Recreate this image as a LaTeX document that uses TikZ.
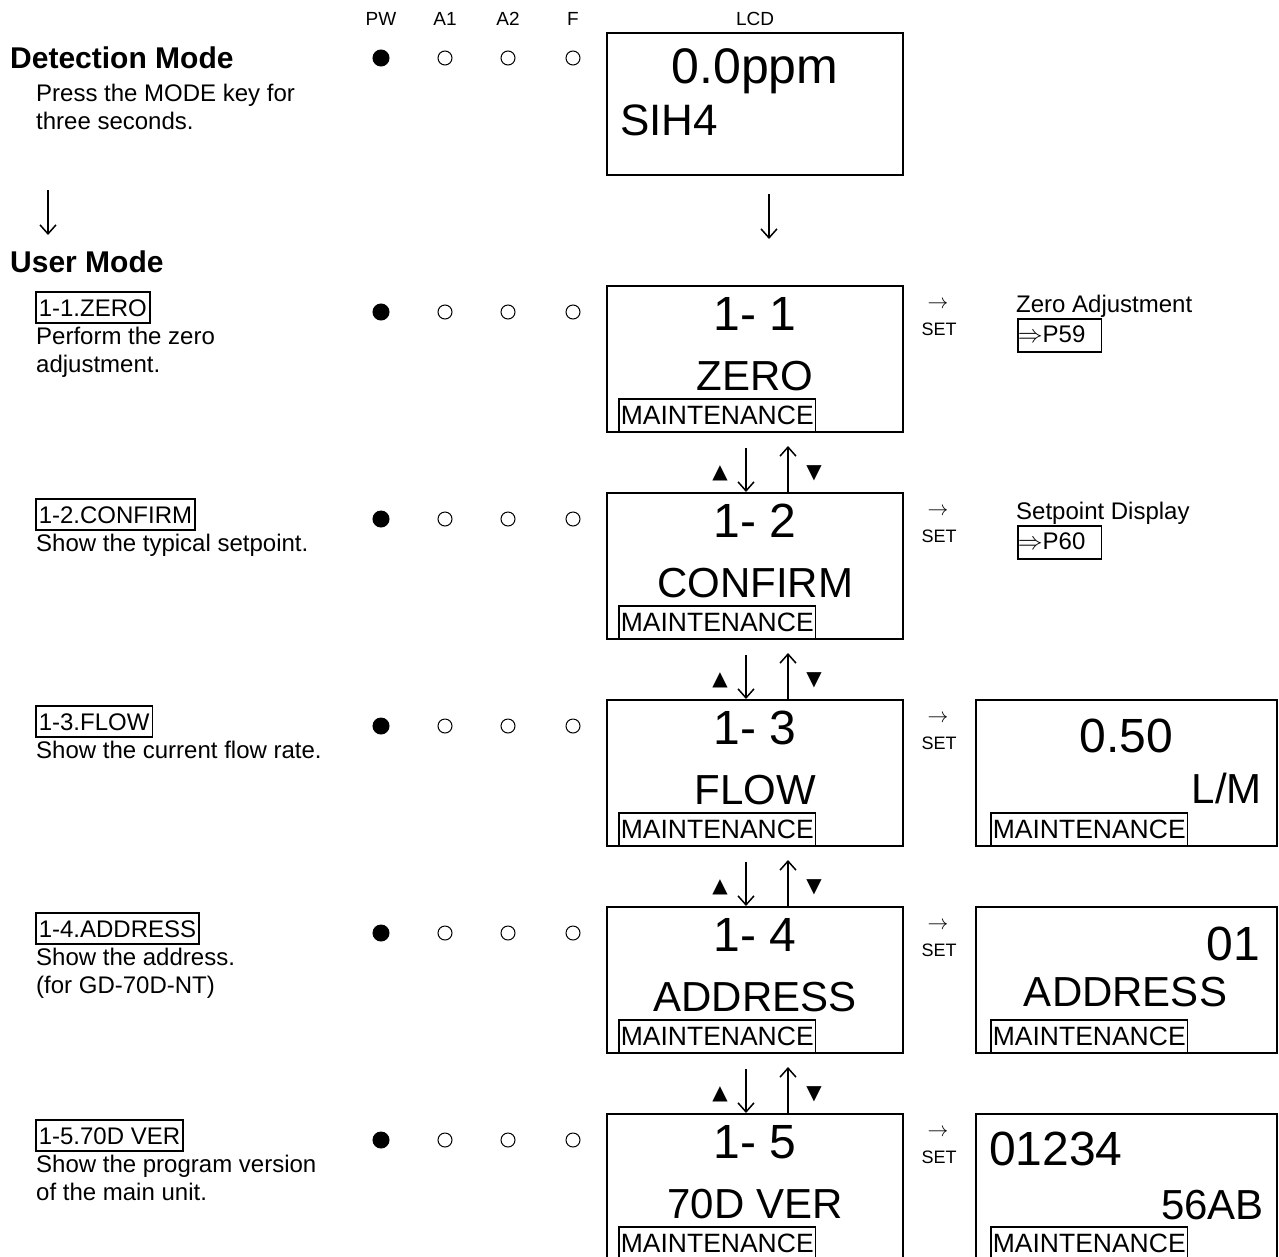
\documentclass[tikz,border=0pt]{standalone}
\usepackage{fontspec}
\setmainfont{Liberation Sans}
\newfontfamily\symfont{DejaVu Sans}
\usetikzlibrary{arrows.meta,positioning,calc}

\newcommand{\fsz}[1]{\fontsize{#1}{#1}\selectfont}

\begin{document}
\begin{tikzpicture}[
  x=1pt, y=-1pt,
  lcd/.style={draw, line width=2pt, minimum width=296, minimum height=146, inner sep=0pt, anchor=north west},
  subbox/.style={lcd, minimum width=301},
  maint/.style={draw, line width=1.6pt, font=\fsz{26.5}, inner xsep=2pt, inner ysep=0pt,
    text height=25pt, text depth=8pt, anchor=south west},
  big/.style={font=\fsz{48}, anchor=base, inner sep=0pt},
  mid/.style={font=\fsz{42}, anchor=base, inner sep=0pt},
  led/.style={circle, draw, line width=1pt, minimum size=14, inner sep=0pt},
  ledon/.style={led, fill=black, minimum size=16},
  head/.style={font=\fsz{19}, inner sep=0pt},
  title/.style={font=\bfseries\fsz{30}, anchor=base west, inner sep=0pt},
  desc/.style={font=\fontsize{24}{28}\selectfont, align=left, anchor=north west, inner sep=0pt},
  itembox/.style={draw, line width=1.6pt, font=\fsz{24}, inner xsep=3pt, inner ysep=0pt,
    text height=24pt, text depth=7pt, anchor=base west},
  refbox/.style={draw, line width=1.6pt, font=\fsz{24}, inner sep=0pt,
    text height=24pt, text depth=9pt, anchor=north west},
  tri/.style={font=\symfont\fsz{20}, inner sep=0pt},
  flow/.style={-{Straight Barb[length=9pt, width=16pt]}, line width=1.5pt},
]
  \useasboundingbox (0,0) rectangle (1279,1256);

  % column heads
  \foreach \x/\lab in {381/PW, 445/A1, 508/A2, 573/F}
    \node[head] at (\x,19) {\lab};

  % detection mode
  \node[title] (det) at (10,68) {Detection Mode};
  \node[desc] (detdesc) at (36,84) {Press the MODE key for\\three seconds.};
  \node[ledon] at (381,58) {};
  \foreach \x in {445,508,573}
    \node[led] at (\x,58) {};
  \node[lcd, minimum height=142] (d) at (606,32) {};
  \node[head] at (d.north |- 0,19) {LCD};
  \node[big, font=\fsz{50}] at ($(d.north)+(0,51)$) {0.0ppm};
  \node[mid, font=\fsz{44}, anchor=base west] at ($(d.north west)+(14,103)$) {SIH4};

  \coordinate (la) at (48,190);
  \coordinate (lb) at (48,235);
  \draw[flow] (la) -- (lb);
  \draw[flow] ($(d.south)+(14,18)$) -- ($(d.south)+(14,63)$);

  % user mode
  \node[title] (user) at (10,272) {User Mode};

  \foreach \n/\word/\desc in {
      1/ZERO/{Perform the zero\\adjustment.},
      2/CONFIRM/{Show the typical setpoint.},
      3/FLOW/{Show the current flow rate.},
      4/ADDRESS/{Show the address.\\(for GD-70D-NT)},
      5/70D VER/{Show the program version\\of the main unit.}} {
    \pgfmathsetmacro\rowy{285+207*(\n-1)}
    \node[itembox] (t\n) at (35,{\rowy+31}) {1-\n.\word};
    \node[desc] at (36,{\rowy+41.5}) {\desc};
    \node[ledon] at (381,{\rowy+27}) {};
    \foreach \x in {445,508,573}
      \node[led] at (\x,{\rowy+27}) {};
    \node[lcd] (m\n) at (606,\rowy) {};
    \node[big] at ($(m\n.north)+(0,45)$) {1- \n};
    \node[mid] at ($(m\n.north)+(0,105)$) {\word};
    \node[maint] at ($(m\n.south west)+(12,0)$) {MAINTENANCE};
    \node[font=\fsz{21}, inner sep=0pt] at (938,{\rowy+20}) {$\rightarrow$};
    \node[font=\fsz{18}, anchor=base, inner sep=0pt] at (939,{\rowy+50}) {SET};
  }

  % up / down keys
  \foreach \n [evaluate=\n as \m using int(\n+1)] in {1,...,4} {
    \draw[flow] ($(m\n.south)+(-9,15)$) -- ($(m\m.north)+(-9,0)$);
    \draw[flow] ($(m\m.north)+(33,0)$) -- ($(m\n.south)+(33,13)$);
    \node[tri] at ($(m\n.south)+(-35,40)$) {▲};
    \node[tri] at ($(m\n.south)+(59,40)$) {▼};
  }

  % SET results
  \node[font=\fsz{24}, anchor=base west, inner sep=0pt] (zero) at (1016,312) {Zero Adjustment};
  \node[refbox] (p59) at (1017,318) {$\Rightarrow$P59\kern16pt};
  \node[font=\fsz{24}, anchor=base west, inner sep=0pt] (setp) at (1016,519) {Setpoint Display};
  \node[refbox] (p60) at (1017,525) {$\Rightarrow$P60\kern16pt};

  \node[subbox] (s3) at (975,699) {};
  \node[big] at ($(s3.north)+(0,53)$) {0.50};
  \node[mid, anchor=base east] at ($(s3.north east)+(-16,104)$) {L/M};
  \node[maint] at ($(s3.south west)+(15,0)$) {MAINTENANCE};

  \node[subbox] (s4) at (975,906) {};
  \node[big, anchor=base east] at ($(s4.north east)+(-18,54)$) {01};
  \node[mid] at ($(s4.north)+(-1,100)$) {ADDRESS};
  \node[maint] at ($(s4.south west)+(15,0)$) {MAINTENANCE};

  \node[subbox] (s5) at (975,1113) {};
  \node[big, anchor=base west] at ($(s5.north west)+(14,52)$) {01234};
  \node[mid, anchor=base east] at ($(s5.north east)+(-14,106)$) {56AB};
  \node[maint] at ($(s5.south west)+(15,0)$) {MAINTENANCE};
\end{tikzpicture}
\end{document}
